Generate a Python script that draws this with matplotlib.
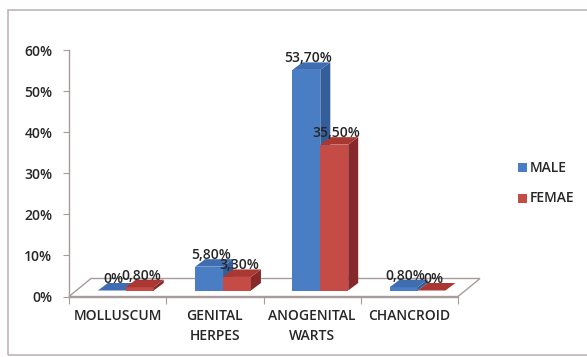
import matplotlib.pyplot as plt
from matplotlib.patches import Polygon, Rectangle
from matplotlib.ticker import PercentFormatter

plt.rcParams['font.family'] = ['Open Sans', 'DejaVu Sans']
plt.rcParams['font.weight'] = 'semibold'

categories = ['MOLLUSCUM', 'GENITAL\nHERPES', 'ANOGENITAL\nWARTS', 'CHANCROID']
male = [0.0, 5.8, 53.7, 0.8]
female = [0.8, 3.3, 35.5, 0.0]
male_labels = ['0%', '5,80%', '53,70%', '0,80%']
female_labels = ['0,80%', '3,30%', '35,50%', '0%']

# face colours: front, top, side
blue = ('#4a7ec4', '#3e6db1', '#335e9a')
red = ('#c54b46', '#a93833', '#87292a')

W, H = 587, 357
fig = plt.figure(figsize=(W / 100, H / 100), dpi=100)
fig.patches.append(Rectangle((8 / W, 2 / H), 1.0, (H - 12) / H, transform=fig.transFigure,
                             fill=False, edgecolor='#bfb6b4', linewidth=1.2))

x0, x1, y0, y1 = 69, 458, 296.5, 50
ax = fig.add_axes([x0 / W, (H - y0) / H, (x1 - x0) / W, (y0 - y1) / H])
ax.set_xlim(0, 4)
ax.set_ylim(0, 60)

# one pixel in data units
px = 4 / (x1 - x0)
py = 60 / (y0 - y1)

axis_col = '#a89c9a'
txt_col = '#262626'
fs = 10

# floor of the 3d box
fdx, fdy = 22 * px, 18 * py
ax.add_patch(Polygon([(0, 0), (4, 0), (4 + fdx, fdy), (fdx, fdy)], closed=True,
                     facecolor='white', edgecolor=axis_col, linewidth=1.0, clip_on=False, zorder=1))

bw = 0.287
bdx, bdy = 10 * px, 7.5 * py
base = 6 * py


def bar3d(left, value, cols):
    b = base
    t = base + value
    r = left + bw
    ax.add_patch(Polygon([(left, b), (r, b), (r, t), (left, t)], closed=True,
                         facecolor=cols[0], edgecolor='none', clip_on=False, zorder=3))
    ax.add_patch(Polygon([(r, b), (r + bdx, b + bdy), (r + bdx, t + bdy), (r, t)], closed=True,
                         facecolor=cols[2], edgecolor='none', clip_on=False, zorder=3))
    ax.add_patch(Polygon([(left, t), (r, t), (r + bdx, t + bdy), (left + bdx, t + bdy)], closed=True,
                         facecolor=cols[1], edgecolor='none', clip_on=False, zorder=3))


for i in range(len(categories)):
    ml = i + 0.297
    fl = ml + bw
    bar3d(ml, male[i], blue)
    bar3d(fl, female[i], red)

for i in range(len(categories)):
    ml = i + 0.297
    fl = ml + bw
    ax.text(ml + bw / 2 + 2 * px, base + male[i] + bdy - 3 * py, male_labels[i],
            ha='center', va='bottom', fontsize=fs, color=txt_col, zorder=5)
    ax.text(fl + bw / 2 + 2 * px, base + female[i] + bdy - 3 * py, female_labels[i],
            ha='center', va='bottom', fontsize=fs, color=txt_col, zorder=5)

for s in ['top', 'right']:
    ax.spines[s].set_visible(False)
for s in ['left', 'bottom']:
    ax.spines[s].set_color(axis_col)
    ax.spines[s].set_linewidth(1.0)
    ax.spines[s].set_zorder(2)

ax.set_yticks(range(0, 61, 10))
ax.yaxis.set_major_formatter(PercentFormatter(decimals=0))
ax.tick_params(axis='y', length=4, color=axis_col, labelsize=fs, pad=8, labelcolor=txt_col)

ax.set_xticks(range(0, 5))
ax.set_xticklabels([])
ax.tick_params(axis='x', which='major', length=5, color=axis_col)
ax.set_xticks([i + 0.5 for i in range(len(categories))], minor=True)
ax.set_xticklabels(categories, minor=True, fontsize=fs, linespacing=1.55, color=txt_col)
ax.tick_params(axis='x', which='minor', length=0, pad=9)

# legend
for name, col, yy in [('MALE', blue[0], 168), ('FEMAE', red[0], 198)]:
    fig.patches.append(Rectangle((518 / W, (H - yy - 4.5) / H), 9 / W, 9 / H,
                                 transform=fig.transFigure, facecolor=col, edgecolor='none'))
    fig.text(530 / W, (H - yy) / H, name, ha='left', va='center', fontsize=fs, color=txt_col)

fig.savefig('out.png', dpi=100)
